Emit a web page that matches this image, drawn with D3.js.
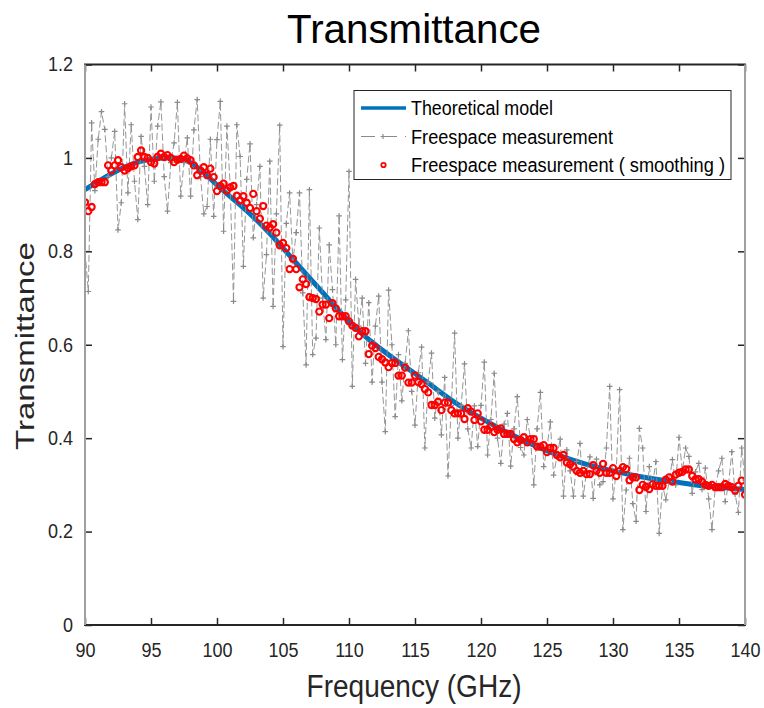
<!DOCTYPE html>
<html>
<head>
<meta charset="utf-8">
<script src="https://cdn.jsdelivr.net/npm/d3@7"></script>
<style>
  body { margin: 0; background: #fff; }
  svg { display: block; font-family: "Liberation Sans", Arial, Helvetica, sans-serif; }
</style>
</head>
<body>
<svg id="chart" width="764" height="708"></svg>
<script>
// frequency grid of the measurement (GHz)
const freqStart = 90;
const freqStep = 0.25;

// theoretical model
const modelFreq = [90, 92, 94, 96, 98, 100, 102, 104, 106, 108, 110, 112, 114,
    116, 118, 120, 122, 124, 126, 128, 130, 132, 134, 136, 138, 140];
const modelValues = [0.932, 0.966, 0.991, 1.000, 0.990, 0.942, 0.893, 0.838, 0.775, 0.712, 0.650, 0.600, 0.558,
    0.518, 0.477, 0.443, 0.412, 0.385, 0.362, 0.344, 0.330, 0.318, 0.309, 0.301, 0.295, 0.290];

// freespace measurement (raw)
const measured = [
    0.800, 0.714, 1.075, 0.930, 1.040, 1.099, 1.061, 0.960, 1.000, 1.057,
    0.846, 0.904, 1.116, 0.925, 1.071, 0.950, 0.868, 1.046, 0.982, 0.900,
    1.109, 0.950, 1.068, 1.120, 0.960, 0.886, 0.990, 1.032, 1.119, 0.918,
    0.990, 1.043, 0.918, 1.060, 1.125, 0.960, 0.880, 0.896, 1.040, 0.875,
    1.039, 1.121, 0.843, 1.068, 0.940, 0.693, 1.071, 1.003, 0.768, 0.954,
    1.030, 0.829, 0.900, 0.982, 0.700, 0.793, 0.993, 0.682, 0.880, 1.070,
    0.596, 0.860, 0.925, 0.778, 0.840, 0.925, 0.711, 0.557, 0.932, 0.579,
    0.614, 0.850, 0.700, 0.611, 0.814, 0.718, 0.600, 0.876, 0.568, 0.696,
    0.971, 0.511, 0.740, 0.640, 0.700, 0.560, 0.690, 0.520, 0.640, 0.704,
    0.520, 0.414, 0.717, 0.600, 0.446, 0.579, 0.480, 0.560, 0.630, 0.500,
    0.428, 0.540, 0.595, 0.379, 0.520, 0.582, 0.443, 0.500, 0.407, 0.530,
    0.319, 0.470, 0.625, 0.400, 0.470, 0.559, 0.420, 0.379, 0.469, 0.382,
    0.470, 0.563, 0.364, 0.440, 0.539, 0.400, 0.346, 0.430, 0.453, 0.340,
    0.420, 0.489, 0.380, 0.364, 0.440, 0.400, 0.300, 0.420, 0.498, 0.339,
    0.380, 0.435, 0.321, 0.360, 0.398, 0.276, 0.375, 0.330, 0.276, 0.350,
    0.389, 0.276, 0.330, 0.360, 0.271, 0.355, 0.300, 0.307, 0.379, 0.511,
    0.270, 0.330, 0.504, 0.204, 0.289, 0.357, 0.260, 0.222, 0.421, 0.379,
    0.243, 0.339, 0.300, 0.350, 0.196, 0.300, 0.268, 0.307, 0.354, 0.300,
    0.402, 0.330, 0.379, 0.361, 0.282, 0.328, 0.346, 0.290, 0.336, 0.270,
    0.204, 0.296, 0.330, 0.357, 0.264, 0.300, 0.371, 0.280, 0.241, 0.379,
    0.310
];

// freespace measurement (smoothing)
const smoothed = [
    0.905, 0.886, 0.895, 0.944, 0.948, 0.948, 0.948, 0.984, 0.973, 0.984,
    0.995, 0.980, 0.973, 0.978, 0.982, 0.984, 1.002, 1.016, 1.002, 1.000,
    0.991, 0.988, 1.002, 1.009, 1.002, 1.006, 1.000, 0.991, 0.996, 0.998,
    1.005, 0.999, 0.995, 0.984, 0.963, 0.973, 0.980, 0.963, 0.977, 0.959,
    0.929, 0.940, 0.945, 0.930, 0.937, 0.940, 0.919, 0.909, 0.918, 0.904,
    0.893, 0.923, 0.886, 0.870, 0.897, 0.855, 0.851, 0.858, 0.840, 0.813,
    0.818, 0.807, 0.762, 0.784, 0.762, 0.723, 0.740, 0.730, 0.702, 0.700,
    0.698, 0.671, 0.686, 0.686, 0.657, 0.689, 0.678, 0.661, 0.661, 0.661,
    0.650, 0.641, 0.636, 0.618, 0.629, 0.629, 0.580, 0.598, 0.593, 0.574,
    0.569, 0.562, 0.552, 0.561, 0.561, 0.534, 0.534, 0.551, 0.519, 0.519,
    0.534, 0.520, 0.516, 0.505, 0.498, 0.471, 0.471, 0.478, 0.460, 0.476,
    0.476, 0.460, 0.453, 0.453, 0.453, 0.441, 0.464, 0.457, 0.439, 0.453,
    0.436, 0.418, 0.418, 0.425, 0.413, 0.418, 0.421, 0.409, 0.409, 0.409,
    0.398, 0.391, 0.396, 0.402, 0.391, 0.398, 0.398, 0.382, 0.382, 0.385,
    0.370, 0.379, 0.379, 0.364, 0.359, 0.364, 0.348, 0.344, 0.339, 0.330,
    0.326, 0.330, 0.323, 0.323, 0.342, 0.330, 0.326, 0.345, 0.326, 0.326,
    0.336, 0.319, 0.330, 0.338, 0.334, 0.310, 0.316, 0.316, 0.289, 0.300,
    0.296, 0.291, 0.301, 0.298, 0.298, 0.298, 0.311, 0.316, 0.307, 0.322,
    0.326, 0.328, 0.333, 0.333, 0.319, 0.312, 0.312, 0.307, 0.300, 0.298,
    0.300, 0.295, 0.295, 0.295, 0.302, 0.298, 0.295, 0.288, 0.298, 0.309,
    0.279
];

const xTicks = [90, 95, 100, 105, 110, 115, 120, 125, 130, 135, 140];
const yTicks = [0, 0.2, 0.4, 0.6, 0.8, 1, 1.2];
const legendLabels = ['Theoretical model', 'Freespace measurement', 'Freespace measurement ( smoothing )'];

const TEXT = '#262626';
const BLUE = '#0072bd';
const GRAY = '#8a8a8a';

const svg = d3.select('#chart');
const box = { left: 85, right: 745, top: 64.5, bottom: 625 };

const x = d3.scaleLinear().domain([90, 140]).range([box.left, box.right]);
const y = d3.scaleLinear().domain([0, 1.2]).range([box.bottom, box.top]);

// squeeze text horizontally (matlab export looks a bit narrow)
function squeeze(sel, k) {
    sel.each(function () {
        const w = this.getComputedTextLength();
        d3.select(this).attr('textLength', w * k).attr('lengthAdjust', 'spacingAndGlyphs');
    });
}

svg.append('defs').append('clipPath').attr('id', 'plotclip')
    .append('rect')
    .attr('x', box.left).attr('y', box.top)
    .attr('width', box.right - box.left).attr('height', box.bottom - box.top);

const plot = svg.append('g').attr('clip-path', 'url(#plotclip)');

// theoretical model
const modelPts = modelFreq.map((f, i) => [f, modelValues[i]]);
plot.append('path')
    .datum(modelPts)
    .attr('fill', 'none')
    .attr('stroke', BLUE)
    .attr('stroke-width', 5)
    .attr('d', d3.line().x(d => x(d[0])).y(d => y(d[1])).curve(d3.curveNatural));

// measurement
const measPts = measured.map((v, i) => [freqStart + i * freqStep, v]);
plot.append('path')
    .datum(measPts)
    .attr('fill', 'none')
    .attr('stroke', GRAY)
    .attr('stroke-width', 0.9)
    .attr('stroke-dasharray', '7,3')
    .attr('d', d3.line().x(d => x(d[0])).y(d => y(d[1])));

plot.append('g').selectAll('path')
    .data(measPts)
    .join('path')
    .attr('transform', d => `translate(${x(d[0])},${y(d[1])})`)
    .attr('d', 'M-2.8,0H2.8M0,-2.8V2.8')
    .attr('stroke', GRAY)
    .attr('stroke-width', 1.2);

// smoothing
const smoothPts = smoothed.map((v, i) => [freqStart + i * freqStep, v]);
plot.append('g').selectAll('circle')
    .data(smoothPts)
    .join('circle')
    .attr('cx', d => x(d[0]))
    .attr('cy', d => y(d[1]))
    .attr('r', 3.1)
    .attr('fill', 'none')
    .attr('stroke', '#ff0000')
    .attr('stroke-width', 2.1);

// axes (ticks inward on all four sides)
const tickLen = 7;
const xAxisB = svg.append('g')
    .attr('transform', `translate(0,${box.bottom})`)
    .call(d3.axisBottom(x).tickValues(xTicks).tickSize(-tickLen).tickPadding(17.5).tickFormat(d3.format('d')));
const xAxisT = svg.append('g')
    .attr('transform', `translate(0,${box.top})`)
    .call(d3.axisTop(x).tickValues(xTicks).tickSize(-tickLen).tickFormat(''));
const yAxisL = svg.append('g')
    .attr('transform', `translate(${box.left},0)`)
    .call(d3.axisLeft(y).tickValues(yTicks).tickSize(-tickLen).tickPadding(12).tickFormat(d => d3.format('~g')(d)));
const yAxisR = svg.append('g')
    .attr('transform', `translate(${box.right},0)`)
    .call(d3.axisRight(y).tickValues(yTicks).tickSize(-tickLen).tickFormat(''));

[xAxisB, xAxisT, yAxisL, yAxisR].forEach(g => {
    g.select('.domain').remove();
    g.selectAll('.tick line').attr('stroke', TEXT).attr('stroke-width', 1.5);
    g.selectAll('.tick text').attr('fill', TEXT).attr('font-size', 20)
        .attr('font-family', '"Liberation Sans", Arial, sans-serif');
});
squeeze(xAxisB.selectAll('.tick text'), 0.9);
squeeze(yAxisL.selectAll('.tick text'), 0.9);

// frame: top and bottom dark, left and right gray
svg.append('line').attr('x1', box.left - 1).attr('x2', box.right + 1).attr('y1', box.top).attr('y2', box.top)
    .attr('stroke', TEXT).attr('stroke-width', 2);
svg.append('line').attr('x1', box.left - 1).attr('x2', box.right + 1).attr('y1', box.bottom).attr('y2', box.bottom)
    .attr('stroke', TEXT).attr('stroke-width', 2);
svg.append('line').attr('x1', box.left).attr('x2', box.left).attr('y1', box.top).attr('y2', box.bottom)
    .attr('stroke', '#a0a0a0').attr('stroke-width', 2);
svg.append('line').attr('x1', box.right).attr('x2', box.right).attr('y1', box.top).attr('y2', box.bottom)
    .attr('stroke', '#a0a0a0').attr('stroke-width', 2);

// title and labels
svg.append('text')
    .attr('x', 414).attr('y', 43)
    .attr('text-anchor', 'middle')
    .attr('font-size', 40)
    .attr('fill', '#000')
    .attr('textLength', 254).attr('lengthAdjust', 'spacingAndGlyphs')
    .text('Transmittance');

svg.append('text')
    .attr('x', 414).attr('y', 697)
    .attr('text-anchor', 'middle')
    .attr('font-size', 31)
    .attr('fill', TEXT)
    .attr('textLength', 215).attr('lengthAdjust', 'spacingAndGlyphs')
    .text('Frequency (GHz)');

svg.append('text')
    .attr('transform', 'translate(33.5,346) rotate(-90)')
    .attr('text-anchor', 'middle')
    .attr('font-size', 26)
    .attr('fill', TEXT)
    .attr('textLength', 208).attr('lengthAdjust', 'spacingAndGlyphs')
    .text('Transmittance');

// legend
const legend = svg.append('g');
legend.append('rect')
    .attr('x', 354).attr('y', 90.5).attr('width', 377).attr('height', 89)
    .attr('fill', '#fff').attr('stroke', TEXT).attr('stroke-width', 1);

const rowY = [108, 136.5, 165];
const labelWidths = [142, 202, 314];

legend.append('line')
    .attr('x1', 361).attr('x2', 406).attr('y1', rowY[0]).attr('y2', rowY[0])
    .attr('stroke', BLUE).attr('stroke-width', 3.5);

legend.append('line')
    .attr('x1', 361).attr('x2', 406).attr('y1', rowY[1]).attr('y2', rowY[1])
    .attr('stroke', GRAY).attr('stroke-width', 1).attr('stroke-dasharray', '14,8');
legend.append('path')
    .attr('transform', `translate(383,${rowY[1]})`)
    .attr('d', 'M-2.5,0H2.5M0,-2.5V2.5')
    .attr('stroke', GRAY).attr('stroke-width', 1.2);

legend.append('circle')
    .attr('cx', 383.5).attr('cy', rowY[2]).attr('r', 2.2)
    .attr('fill', 'none').attr('stroke', '#ff0000').attr('stroke-width', 1.8);

legend.selectAll('text.lab')
    .data(legendLabels)
    .join('text')
    .attr('class', 'lab')
    .attr('x', 411)
    .attr('y', (d, i) => rowY[i] + 7)
    .attr('font-size', 20)
    .attr('fill', '#000')
    .attr('textLength', (d, i) => labelWidths[i])
    .attr('lengthAdjust', 'spacingAndGlyphs')
    .text(d => d);
</script>
</body>
</html>
